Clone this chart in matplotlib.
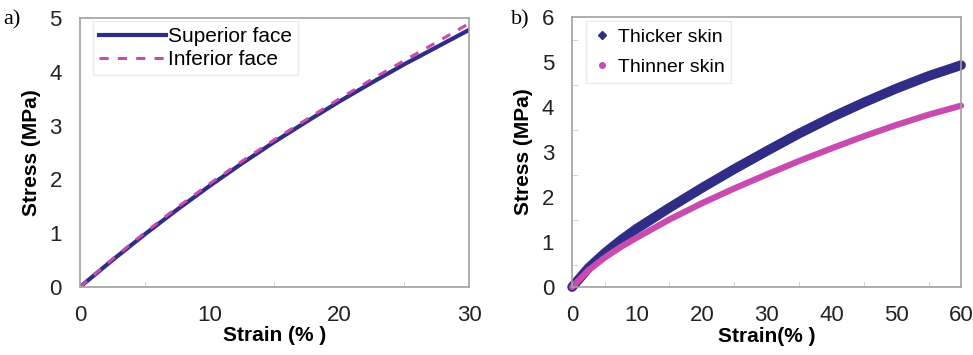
import numpy as np
import matplotlib.pyplot as plt
from matplotlib.lines import Line2D

plt.rcParams['font.family'] = ['Liberation Sans', 'DejaVu Sans']

# panel a: stress-strain of the two faces
strain_a = [0, 2.5, 5, 7.5, 10, 12.5, 15, 17.5, 20, 22.5, 25, 27.5, 30]
superior = [0, 0.5, 0.98, 1.44, 1.88, 2.3, 2.7, 3.08, 3.45, 3.8, 4.14, 4.46, 4.78]
inferior = [0, 0.52, 1.01, 1.48, 1.92, 2.34, 2.74, 3.12, 3.5, 3.86, 4.21, 4.55, 4.9]

# panel b: thicker vs thinner skin
strain_b = [0, 2.5, 5, 7.5, 10, 15, 20, 25, 30, 35, 40, 45, 50, 55, 60]
thicker = [0, 0.42, 0.75, 1.04, 1.3, 1.76, 2.2, 2.62, 3.02, 3.41, 3.77, 4.1, 4.41, 4.69, 4.93]
thinner = [0, 0.37, 0.65, 0.89, 1.1, 1.5, 1.86, 2.19, 2.5, 2.8, 3.08, 3.35, 3.6, 3.83, 4.03]

navy = '#2f2d85'
pink = '#c94bb0'
frame = '#a0a0a0'

fig = plt.figure(figsize=(9.73, 3.55), dpi=100)
axa = fig.add_axes([0.0822, 0.1915, 0.3998, 0.7575])
axb = fig.add_axes([0.588, 0.1915, 0.3997, 0.7605])


def style(ax):
    for s in ax.spines.values():
        s.set_color(frame)
        s.set_linewidth(1.2)
    ax.tick_params(which='major', length=0, labelsize=16, colors='#222222')
    ax.tick_params(axis='x', which='major', pad=13)
    ax.tick_params(axis='y', which='major', pad=13)
    ax.tick_params(which='minor', direction='in', length=4, color='#cccccc')


axa.plot(strain_a, superior, color=navy, lw=3, label='Superior face')
axa.plot(strain_a, inferior, color=pink, lw=2.2, ls=(0, (3, 3)), label='Inferior face')
axa.set_xlim(0, 30)
axa.set_ylim(0, 5)
axa.set_xticks([0, 10, 20, 30])
axa.set_xticks([5, 15, 25], minor=True)
axa.set_yticks([0, 1, 2, 3, 4, 5])
style(axa)
axa.set_xlabel('Strain (% )', fontsize=15, fontweight='bold', labelpad=0)
axa.set_ylabel('Stress (MPa)', fontsize=15, fontweight='bold', labelpad=6)
axa.legend(loc='upper left', bbox_to_anchor=(0.033, 0.99), fontsize=15, frameon=True,
           fancybox=False, edgecolor='#e6e6e6', handlelength=3.2, handletextpad=0.1,
           borderpad=0.3, labelspacing=0.2, borderaxespad=0)
fig.text(0.003, 0.93, 'a)', fontsize=16, family='Liberation Serif')

axb.plot(strain_b, thicker, color=navy, lw=7, solid_capstyle='round', clip_on=False)
axb.plot(strain_b, thinner, color=pink, lw=4.5, solid_capstyle='round', clip_on=False)
axb.set_xlim(0, 60)
axb.set_ylim(0, 6)
axb.set_xticks([0, 10, 20, 30, 40, 50, 60])
axb.set_xticks(np.arange(5, 60, 5), minor=True)
axb.set_yticks([0, 1, 2, 3, 4, 5, 6])
axb.set_yticks(np.arange(0.5, 6, 0.5), minor=True)
style(axb)
axb.set_xlabel('Strain(% )', fontsize=15, fontweight='bold', labelpad=1)
axb.set_ylabel('Stress (MPa)', fontsize=15, fontweight='bold', labelpad=6)
handles = [Line2D([], [], ls='none', marker='D', ms=4, color=navy),
           Line2D([], [], ls='none', marker='o', ms=4, color=pink)]
axb.legend(handles, ['Thicker skin', 'Thinner skin'], loc='upper left',
           bbox_to_anchor=(0.035, 0.985), fontsize=14, frameon=True, fancybox=False,
           edgecolor='#e6e6e6', handlelength=1.0, handletextpad=0.3, borderpad=0.35,
           labelspacing=0.65, borderaxespad=0)
fig.text(0.525, 0.93, 'b)', fontsize=16, family='Liberation Serif')

fig.savefig('out.png', dpi=100)
